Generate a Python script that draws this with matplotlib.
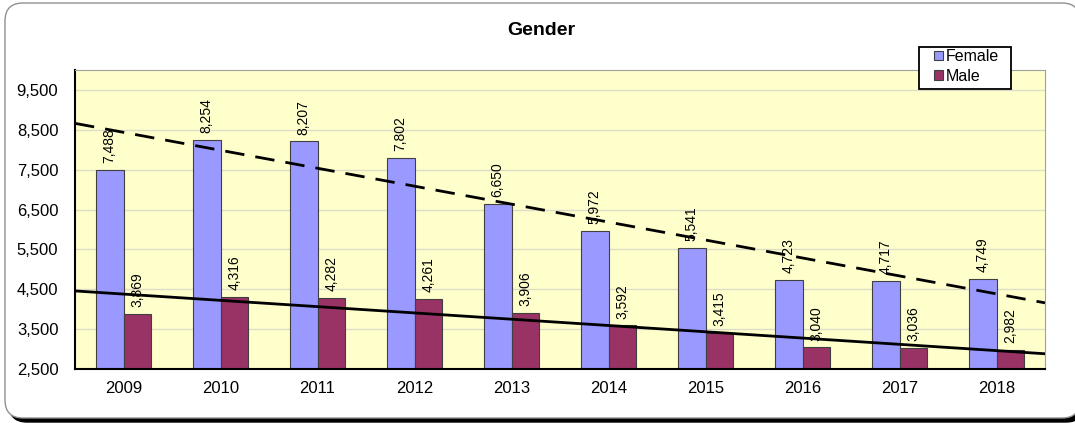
import matplotlib
matplotlib.use("Agg")
import matplotlib.pyplot as plt
from matplotlib.patches import FancyBboxPatch, Rectangle
import numpy as np

# DATA
years = ["2009", "2010", "2011", "2012", "2013", "2014", "2015", "2016", "2017", "2018"]
female = [7488, 8254, 8207, 7802, 6650, 5972, 5541, 4723, 4717, 4749]
male = [3869, 4316, 4282, 4261, 3906, 3592, 3415, 3040, 3036, 2982]
yticks = [2500, 3500, 4500, 5500, 6500, 7500, 8500, 9500]

plt.rcParams['font.family'] = ['Liberation Sans', 'DejaVu Sans']

fig = plt.figure(figsize=(10.75, 4.23), dpi=100)

# rounded frame with shadow, drawn in pixel units on a background axes
bg = fig.add_axes([0, 0, 1, 1])
bg.set_xlim(0, 1075)
bg.set_ylim(0, 423)
bg.axis("off")
bg.add_patch(FancyBboxPatch((9, 1), 1075, 414, boxstyle="round,pad=0,rounding_size=18",
                            facecolor="black", edgecolor="black"))
bg.add_patch(FancyBboxPatch((5, 5), 1075, 415, boxstyle="round,pad=0,rounding_size=18",
                            facecolor="white", edgecolor="#909090", linewidth=1))

ax = fig.add_axes([0.0698, 0.1277, 0.9023, 0.7068])
ax.set_facecolor("#FFFFCC")

x = np.arange(len(years))
w = 0.286
ax.bar(x - w / 2, female, w, color="#9999FF", edgecolor="#404040", linewidth=0.8, label="Female", zorder=2)
ax.bar(x + w / 2, male, w, color="#993366", edgecolor="#404040", linewidth=0.8, label="Male", zorder=2)

# data labels
for xi, v in zip(x - w / 2, female):
    ax.annotate(f"{v:,}", (xi, v), xytext=(0, 5), textcoords="offset points",
                rotation=90, ha="center", va="bottom", fontsize=10, zorder=4)
for xi, v in zip(x + w / 2, male):
    ax.annotate(f"{v:,}", (xi, v), xytext=(0, 5), textcoords="offset points",
                rotation=90, ha="center", va="bottom", fontsize=10, zorder=4)

# linear trendlines
tx = np.array([-0.5, len(years) - 0.5])
pf = np.polyfit(x, female, 1)
pm = np.polyfit(x, male, 1)
ax.plot(tx, np.polyval(pf, tx), color="black", linewidth=2, dashes=(7, 4), zorder=3)
ax.plot(tx, np.polyval(pm, tx), color="black", linewidth=2, zorder=3)

ax.set_xlim(-0.5, len(years) - 0.5)
ax.set_ylim(2500, 10000)
ax.set_xticks(x)
ax.set_xticklabels(years, fontsize=12)
ax.set_yticks(yticks)
ax.set_yticklabels([f"{t:,}" for t in yticks], fontsize=12)
ax.tick_params(length=0)
ax.tick_params(axis="x", pad=9)
ax.tick_params(axis="y", pad=12)
ax.grid(axis="y", color="#DCDCC8", linewidth=1, zorder=0)
ax.set_axisbelow(True)
for s in ["top", "right"]:
    ax.spines[s].set_color("#A0A0A0")
for s in ["left", "bottom"]:
    ax.spines[s].set_color("black")
    ax.spines[s].set_linewidth(1.5)

fig.text(0.504, 0.928, "Gender", ha="center", va="center", fontsize=14, fontweight="bold")

# legend: white box with black border, entries inside
box = Rectangle((919, 334), 92, 42, transform=bg.transData, facecolor="white",
                edgecolor="black", linewidth=1.3, clip_on=False, zorder=5)
ax.add_artist(box)
leg = ax.legend(loc="upper left", bbox_to_anchor=(934 / 1075, 374 / 423),
                bbox_transform=fig.transFigure, fontsize=11.5, frameon=False,
                handlelength=0.55, handleheight=0.55, handletextpad=0.2, borderpad=0,
                labelspacing=0.3, borderaxespad=0)
leg.set_zorder(6)

fig.savefig("out.png", dpi=100)
